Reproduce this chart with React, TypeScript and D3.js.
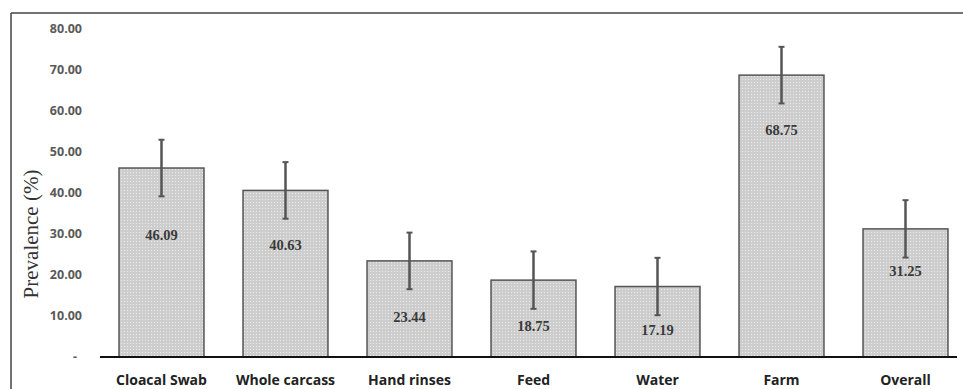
import React from "react";
import * as d3 from "d3";

const categories = ["Cloacal Swab", "Whole carcass", "Hand rinses", "Feed", "Water", "Farm", "Overall"];
const prevalence = [46.09, 40.63, 23.44, 18.75, 17.19, 68.75, 31.25];
const errorMargin = [6.9, 6.9, 6.9, 7.0, 7.0, 6.9, 7.0];
const yTicks = [0, 10, 20, 30, 40, 50, 60, 70, 80];

// layout: label offsets (px below bar top)
const labelOffsets = [67, 55, 56, 46, 43, 55, 42];

const W = 963;
const H = 389;

export default function App() {
  const x = d3
    .scaleBand<string>()
    .domain(categories)
    .range([99.5, 967.5])
    .paddingInner(0.315)
    .paddingOuter(0.1575);
  const y = d3.scaleLinear().domain([0, 80]).range([357, 29]);
  const fmt = d3.format(".2f");

  return (
    <svg
      width={W}
      height={H}
      style={{ position: "absolute", left: 0, top: 0, background: "#fff" }}
    >
      <defs>
        <pattern id="dots" width="3" height="3" patternUnits="userSpaceOnUse">
          <rect width="3" height="3" fill="#cdcdcd" />
          <rect x="1" y="1" width="1" height="1" fill="#ebebeb" />
        </pattern>
      </defs>
      <rect width={W} height={H} fill="#fff" />
      {/* frame */}
      <line x1={11} y1={13} x2={W} y2={13} stroke="#444" strokeWidth={1.5} />
      <line x1={11} y1={13} x2={11} y2={H} stroke="#444" strokeWidth={1.5} />

      {/* y ticks */}
      {yTicks.map((t) => (
        <text
          key={t}
          x={t === 0 ? 77 : 82}
          y={y(t)}
          dy="0.35em"
          textAnchor="end"
          fontFamily="'Open Sans', sans-serif"
          fontWeight="bold"
          fontSize={12.5}
          fill="#595959"
        >
          {t === 0 ? "-" : fmt(t)}
        </text>
      ))}

      {/* y title */}
      <text
        transform={`translate(31,${234}) rotate(-90)`}
        textAnchor="middle"
        dy="0.35em"
        fontFamily="'Liberation Serif', serif"
        fontSize={21}
        fill="#333"
      >
        Prevalence (%)
      </text>

      {/* bars */}
      {categories.map((c, i) => (
        <rect
          key={c}
          x={x(c)}
          y={y(prevalence[i])}
          width={x.bandwidth()}
          height={y(0) - y(prevalence[i])}
          fill="url(#dots)"
          stroke="#555"
          strokeWidth={1.5}
        />
      ))}

      {/* error bars */}
      {categories.map((c, i) => {
        const cx = (x(c) as number) + x.bandwidth() / 2;
        const hi = y(prevalence[i] + errorMargin[i]);
        const lo = y(prevalence[i] - errorMargin[i]);
        return (
          <g key={c} stroke="#555">
            <line x1={cx} x2={cx} y1={hi} y2={lo} strokeWidth={2.5} />
            <line x1={cx - 3} x2={cx + 3} y1={hi} y2={hi} strokeWidth={2} />
            <line x1={cx - 3} x2={cx + 3} y1={lo} y2={lo} strokeWidth={2} />
          </g>
        );
      })}

      {/* value labels */}
      {categories.map((c, i) => (
        <text
          key={c}
          x={(x(c) as number) + x.bandwidth() / 2}
          y={y(prevalence[i]) + labelOffsets[i]}
          dy="0.35em"
          textAnchor="middle"
          fontFamily="'Liberation Serif', serif"
          fontWeight="bold"
          fontSize={14.5}
          fill="#3a3a3a"
        >
          {fmt(prevalence[i])}
        </text>
      ))}

      {/* baseline */}
      <line x1={100} x2={957} y1={y(0)} y2={y(0)} stroke="#111" strokeWidth={2} />

      {/* category labels */}
      {categories.map((c) => (
        <text
          key={c}
          x={(x(c) as number) + x.bandwidth() / 2}
          y={380}
          dy="0.35em"
          textAnchor="middle"
          fontFamily="'Open Sans', sans-serif"
          fontWeight="bold"
          fontSize={14}
          fill="#222"
        >
          {c}
        </text>
      ))}
    </svg>
  );
}
